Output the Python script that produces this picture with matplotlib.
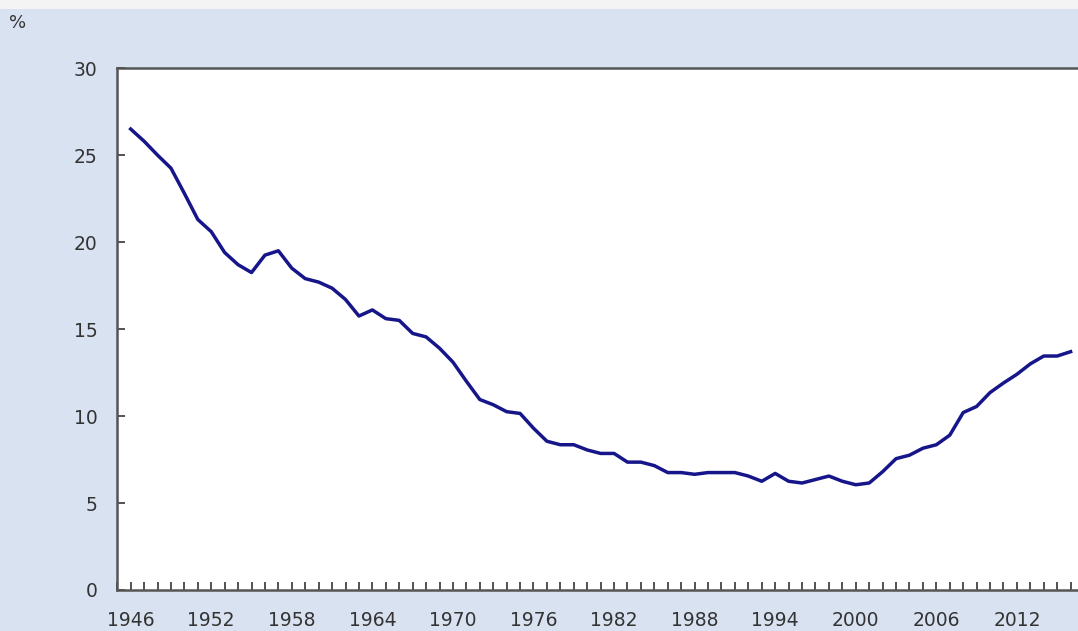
import matplotlib
matplotlib.use("Agg")
import matplotlib.pyplot as plt
from matplotlib.patches import Rectangle
from matplotlib.ticker import MultipleLocator, FixedLocator

# years and values
anos = list(range(1946, 2017))
valores = [26.5, 25.8, 25.0, 24.25, 22.8, 21.3, 20.6, 19.4, 18.7, 18.25,
           19.25, 19.5, 18.5, 17.9, 17.7, 17.35, 16.7, 15.75, 16.1, 15.6,
           15.5, 14.75, 14.55, 13.9, 13.1, 12.0, 10.95, 10.65, 10.25, 10.15,
           9.3, 8.55, 8.35, 8.35, 8.05, 7.85, 7.85, 7.35, 7.35, 7.15,
           6.75, 6.75, 6.65, 6.75, 6.75, 6.75, 6.55, 6.25, 6.7, 6.25,
           6.15, 6.35, 6.55, 6.25, 6.05, 6.15, 6.8, 7.55, 7.75, 8.15,
           8.35, 8.9, 10.2, 10.55, 11.35, 11.9, 12.4, 13.0, 13.45, 13.45,
           13.7]
ticks_x = list(range(1946, 2017, 6))
ticks_y = [0, 5, 10, 15, 20, 25, 30]

fundo = '#d9e2f1'
texto = '#333333'

fig = plt.figure(figsize=(10.78, 6.31), dpi=100, facecolor=fundo)
fig.patches.append(Rectangle((0, 0.9857), 1, 0.0143, transform=fig.transFigure,
                             facecolor='#f4f4f4', edgecolor='none'))

ax = fig.add_axes([0.1085, 0.065, 0.8915, 0.827])
ax.set_facecolor('white')
ax.plot(anos, valores, color='#16168a', linewidth=2.5, solid_joinstyle='round')

ax.set_xlim(1944.98, 2016.55)
ax.set_ylim(0, 30)
ax.xaxis.set_major_locator(FixedLocator(ticks_x))
ax.xaxis.set_minor_locator(MultipleLocator(1))
ax.yaxis.set_major_locator(FixedLocator(ticks_y))

for lado in ['left', 'top', 'bottom']:
    ax.spines[lado].set_color('#555555')
    ax.spines[lado].set_linewidth(1.8)
ax.spines['right'].set_visible(False)

ax.tick_params(axis='x', which='both', direction='in', length=6, width=1.3,
               color='#444444', pad=15, labelsize=13.5, labelcolor=texto)
ax.tick_params(axis='y', which='both', direction='in', length=6, width=1.3,
               color='#444444', pad=14, labelsize=13.5, labelcolor=texto)

fig.text(0.008, 0.963, '%', fontsize=13, color=texto, va='center', ha='left')

fig.savefig('out.png', dpi=100, facecolor=fundo)
